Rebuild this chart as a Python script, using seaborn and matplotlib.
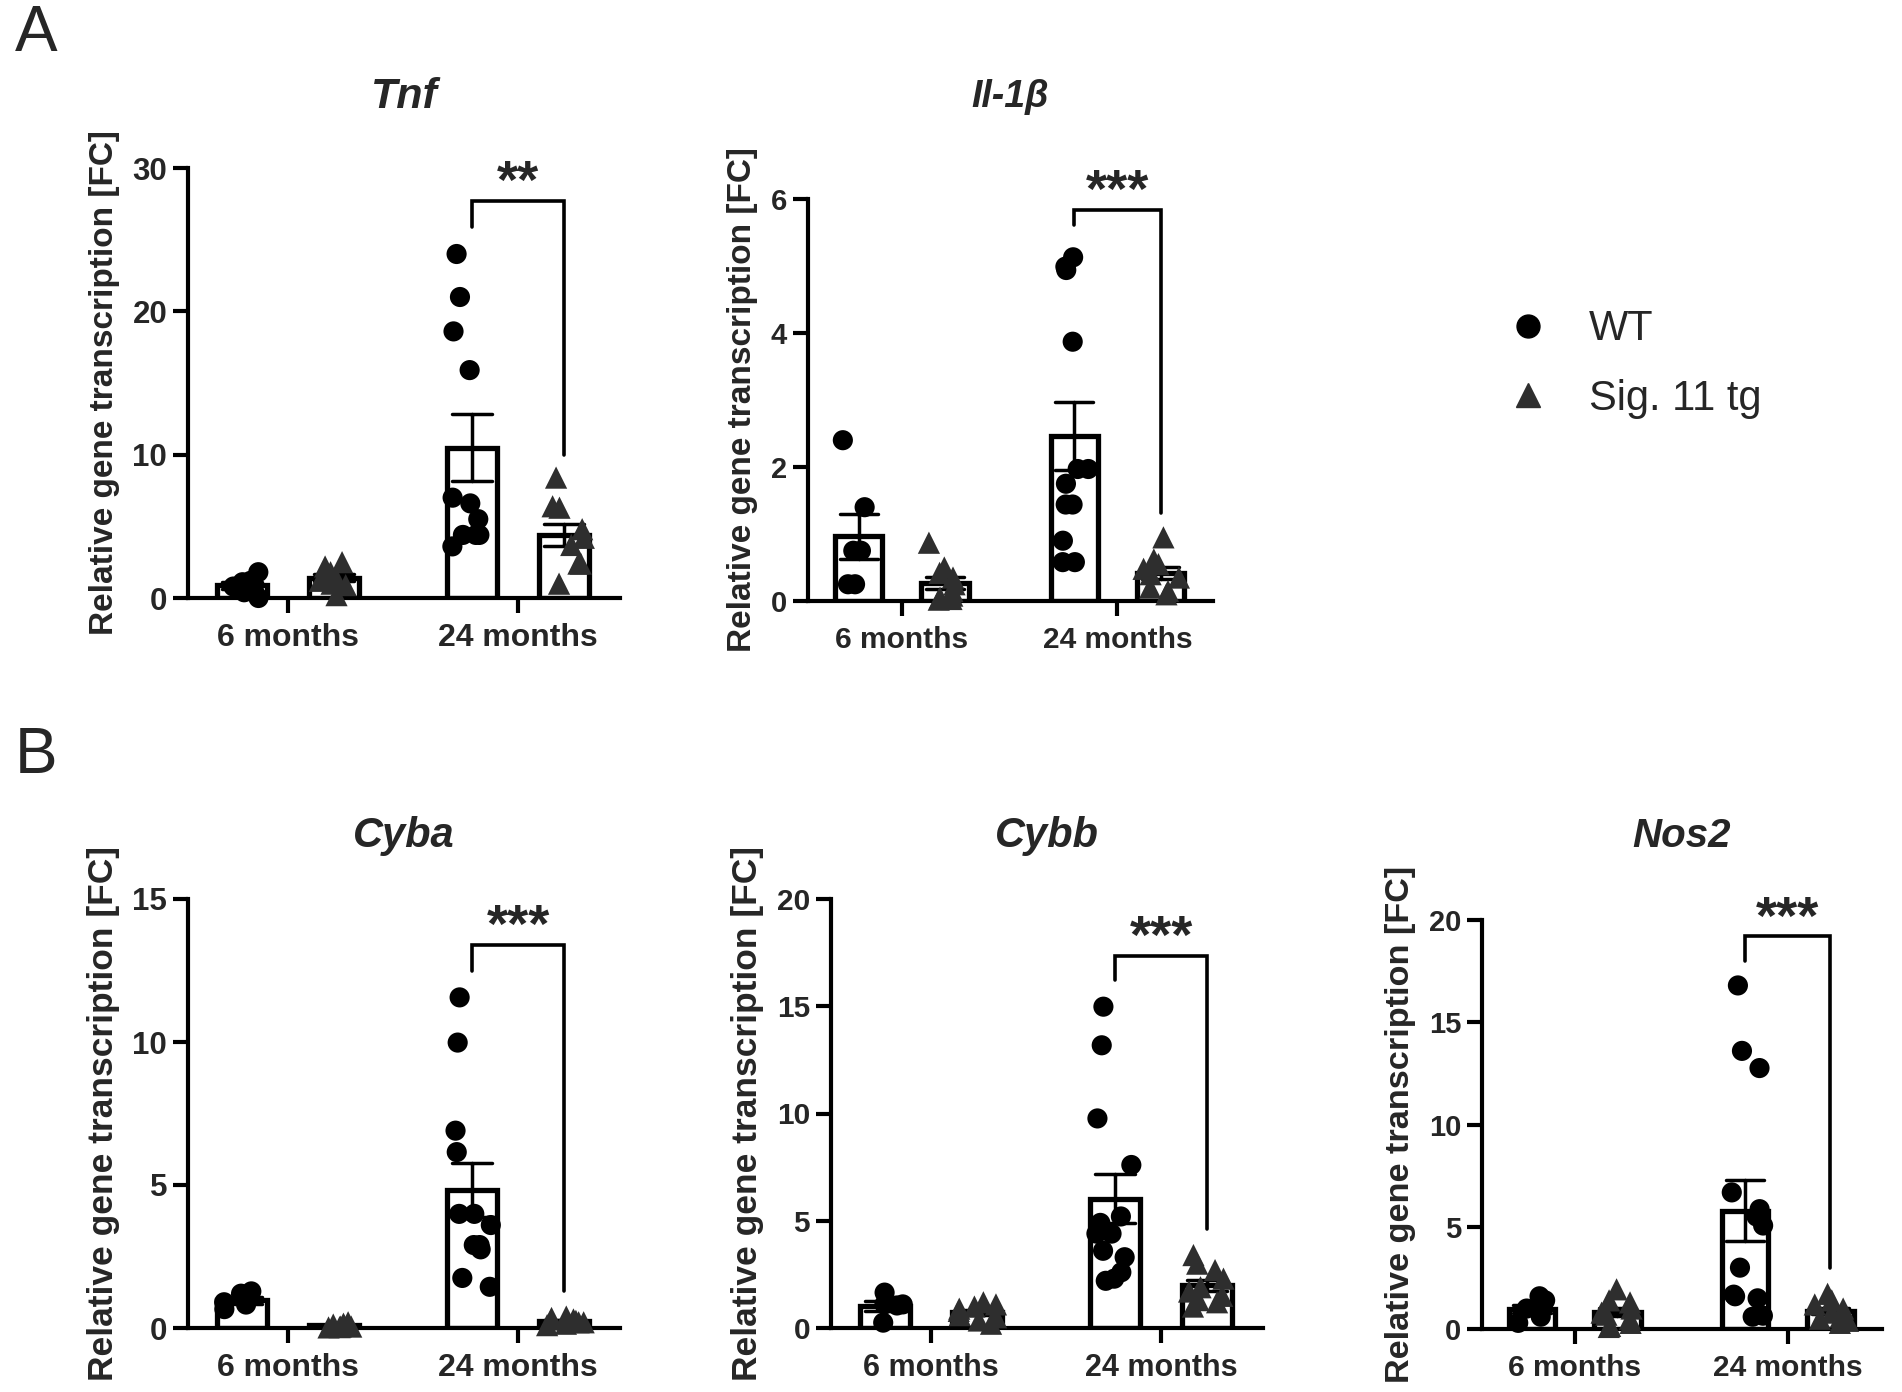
import numpy as np
import pandas as pd
import matplotlib
matplotlib.use("Agg")
import matplotlib.pyplot as plt
import seaborn as sns
from matplotlib.lines import Line2D

# ---- data ----
ages = ["6 months", "24 months"]
genotypes = ["WT", "Sig. 11 tg"]

tnf_wt_6 = [0.4, 1.2, 0.8, 1.1, 1.8, 0.0]
tnf_tg_6 = [0.2, 1.5, 1.8, 2.2, 2.5, 1.0, 1.2, 1.4, 0.9]
tnf_wt_24 = [24.0, 21.0, 18.6, 15.9, 7.0, 6.6, 5.5, 4.4, 4.4, 4.4, 3.6]
tnf_tg_24 = [8.4, 6.4, 6.3, 4.8, 4.2, 3.7, 2.4, 2.4, 1.0]

il1b_wt_6 = [2.4, 1.4, 0.75, 0.75, 0.25, 0.25]
il1b_tg_6 = [0.87, 0.5, 0.42, 0.35, 0.25, 0.15, 0.08, 0.05, 0.03, 0.02]
il1b_wt_24 = [5.13, 4.99, 4.94, 3.87, 1.97, 1.97, 1.75, 1.44, 1.44, 0.9, 0.58, 0.58]
il1b_tg_24 = [0.95, 0.62, 0.55, 0.48, 0.4, 0.35, 0.2, 0.15, 0.1]

cyba_wt_6 = [1.28, 1.2, 0.82, 0.9, 0.66]
cyba_tg_6 = [0.2, 0.15, 0.12, 0.1, 0.08, 0.05, 0.05, 0.03, 0.02]
cyba_wt_24 = [11.56, 9.98, 6.9, 6.15, 3.99, 3.99, 3.6, 2.9, 2.9, 2.75, 1.75, 1.44]
cyba_tg_24 = [0.4, 0.35, 0.3, 0.3, 0.25, 0.2, 0.2, 0.15, 0.1]

cybb_wt_6 = [1.65, 1.1, 1.05, 1.1, 0.25]
cybb_tg_6 = [1.2, 1.1, 1.0, 0.9, 0.8, 0.6, 0.5, 0.35, 0.2]
cybb_wt_24 = [14.98, 13.18, 9.77, 7.6, 5.2, 4.9, 4.4, 4.4, 3.6, 3.3, 2.6, 2.3, 2.2]
cybb_tg_24 = [3.4, 3.0, 2.7, 2.3, 1.9, 1.7, 1.5, 1.3, 1.2, 1.0]

nos2_wt_6 = [1.6, 1.4, 1.0, 1.0, 0.6, 0.3]
nos2_tg_6 = [1.94, 1.4, 1.3, 1.0, 0.8, 0.7, 0.5, 0.3, 0.15, 0.1]
nos2_wt_24 = [16.8, 13.6, 12.76, 6.68, 5.86, 5.5, 5.06, 3.0, 1.68, 1.6, 1.5, 0.65, 0.6]
nos2_tg_24 = [1.72, 1.4, 1.2, 1.0, 0.8, 0.6, 0.5, 0.4, 0.3]

genes = ["Tnf", "Il-1β", "Cyba", "Cybb", "Nos2"]
gene_values = {
    "Tnf": [tnf_wt_6, tnf_tg_6, tnf_wt_24, tnf_tg_24],
    "Il-1β": [il1b_wt_6, il1b_tg_6, il1b_wt_24, il1b_tg_24],
    "Cyba": [cyba_wt_6, cyba_tg_6, cyba_wt_24, cyba_tg_24],
    "Cybb": [cybb_wt_6, cybb_tg_6, cybb_wt_24, cybb_tg_24],
    "Nos2": [nos2_wt_6, nos2_tg_6, nos2_wt_24, nos2_tg_24],
}
y_ticks = {
    "Tnf": [0, 10, 20, 30],
    "Il-1β": [0, 2, 4, 6],
    "Cyba": [0, 5, 10, 15],
    "Cybb": [0, 5, 10, 15, 20],
    "Nos2": [0, 5, 10, 15, 20],
}
# significance bracket at 24 months: WT leg end, top, tg leg end, label
brackets = {
    "Tnf": (25.9, 27.7, 10.0, "**"),
    "Il-1β": (5.61, 5.84, 1.32, "***"),
    "Cyba": (12.5, 13.4, 1.28, "***"),
    "Cybb": (16.24, 17.36, 4.6, "***"),
    "Nos2": (18.0, 19.2, 2.97, "***"),
}

rows = []
for gene in genes:
    groups = [("6 months", "WT"), ("6 months", "Sig. 11 tg"),
              ("24 months", "WT"), ("24 months", "Sig. 11 tg")]
    for (age, gt), vals in zip(groups, gene_values[gene]):
        for v in vals:
            rows.append({"gene": gene, "age": age, "genotype": gt, "value": v})
df = pd.DataFrame(rows)

# ---- figure ----
sns.set_style("ticks")
plt.rcParams["font.family"] = ["Liberation Sans", "DejaVu Sans"]
plt.rcParams["font.weight"] = "bold"
np.random.seed(3)

W, H = 1902, 1392
fig = plt.figure(figsize=(W / 100, H / 100), dpi=100)

# axes boxes in pixels: left, top, right, bottom
boxes = {
    "Tnf": (188, 168, 620, 598),
    "Il-1β": (808, 199, 1213, 601),
    "Cyba": (188, 899, 620, 1328),
    "Cybb": (831, 899, 1263, 1328),
    "Nos2": (1482, 920, 1882, 1329),
}
title_y = {"Tnf": 97, "Il-1β": 97, "Cyba": 836, "Cybb": 836, "Nos2": 836}
# per-panel text sizes: ticks, y label, title
tick_fs = {"Tnf": 23, "Il-1β": 21.5, "Cyba": 23, "Cybb": 22, "Nos2": 21.5}
ylab_fs = {"Tnf": 24, "Il-1β": 24, "Cyba": 25.5, "Cybb": 25.5, "Nos2": 24.7}
title_fs = {"Tnf": 31, "Il-1β": 27, "Cyba": 30, "Cybb": 30, "Nos2": 29}

lw = 3.0
white = {g: "white" for g in genotypes}
point_col = {"WT": "black", "Sig. 11 tg": "#2e2e2e"}
markers = {"WT": "o", "Sig. 11 tg": "^"}
sizes = {"WT": 14.5, "Sig. 11 tg": 16}

for gene in genes:
    l, t, r, b = boxes[gene]
    ax = fig.add_axes([l / W, 1 - b / H, (r - l) / W, (b - t) / H])
    d = df[df.gene == gene]

    sns.barplot(data=d, x="age", y="value", hue="genotype", order=ages,
                hue_order=genotypes, errorbar="se", width=0.8, gap=0.45,
                palette=white, edgecolor="black", linewidth=3.8,
                capsize=0.35, err_kws={"color": "black", "linewidth": 2.5},
                legend=False, ax=ax)
    for gt in genotypes:
        sns.stripplot(data=d[d.genotype == gt], x="age", y="value",
                      hue="genotype", order=ages, hue_order=genotypes,
                      dodge=True, jitter=0.18,
                      palette={g: point_col[gt] for g in genotypes},
                      marker=markers[gt], size=sizes[gt], linewidth=0,
                      legend=False, ax=ax)
    for c in ax.collections:
        c.set_clip_on(False)
        c.set_zorder(4)

    ticks = y_ticks[gene]
    ax.set_ylim(0, ticks[-1])
    ax.set_yticks(ticks)
    ax.set_xlim(-0.435, 1.443)
    ax.set_xlabel("")
    ax.set_ylabel("Relative gene transcription [FC]", fontsize=ylab_fs[gene],
                  fontweight="bold", labelpad=9)
    ax.tick_params(axis="both", length=11, width=lw, color="black")
    ax.tick_params(axis="x", labelsize=tick_fs[gene], pad=7)
    ax.tick_params(axis="y", labelsize=tick_fs[gene] - 0.5, pad=4)
    for lab in ax.get_xticklabels() + ax.get_yticklabels():
        lab.set_fontweight("bold")
    sns.despine(ax=ax)
    for s in ["left", "bottom"]:
        ax.spines[s].set_linewidth(lw)
        ax.spines[s].set_color("black")

    # significance bracket between the two 24-month bars
    y_wt, y_top, y_tg, stars = brackets[gene]
    x_wt, x_tg = 1 - 0.2, 1 + 0.2
    ax.plot([x_wt, x_wt, x_tg, x_tg], [y_wt, y_top, y_top, y_tg],
            color="black", lw=2.6, clip_on=False, zorder=5,
            solid_joinstyle="miter")
    ax.annotate(stars, xy=(1, y_top), xytext=(0, 2), textcoords="offset points",
                ha="center", va="baseline", fontsize=39, fontweight="bold",
                annotation_clip=False)

    fig.text((l + r) / 2 / W, 1 - title_y[gene] / H, gene, ha="center",
             va="center", fontsize=title_fs[gene], fontweight="bold",
             style="italic")

fig.text(15 / W, 1 - 4 / H, "A", ha="left", va="top", fontsize=46,
         fontweight="normal")
fig.text(15 / W, 1 - 726 / H, "B", ha="left", va="top", fontsize=46,
         fontweight="normal")

handles = [Line2D([], [], ls="none", marker="o", color="black", markersize=16.5),
           Line2D([], [], ls="none", marker="^", color="#2e2e2e", markersize=17)]
fig.legend(handles, genotypes, loc="center left",
           bbox_to_anchor=(1449 / W, 1 - 364 / H), frameon=False,
           prop={"size": 30, "weight": "normal"}, handletextpad=0.45,
           labelspacing=0.7)

fig.savefig("out.png", dpi=100)
